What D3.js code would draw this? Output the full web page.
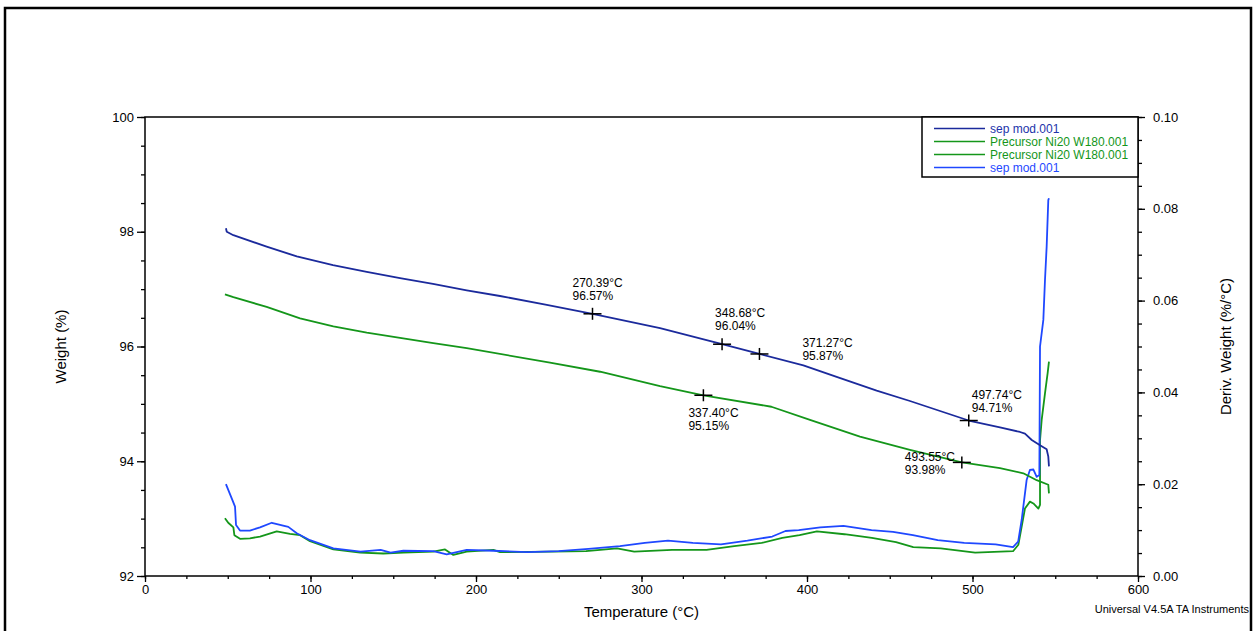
<!DOCTYPE html>
<html>
<head>
<meta charset="utf-8">
<script src="https://cdn.jsdelivr.net/npm/d3@7"></script>
<style>
  body { margin: 0; background: #fff; }
  svg { font-family: "Liberation Sans", Arial, sans-serif; }
</style>
</head>
<body>
<svg id="chart" width="1257" height="631"></svg>
<script>
// weight curves [temperature °C, weight %]
const sepWeight = [
  [48.9, 98.06], [49.4, 98.00], [53.4, 97.94], [73.5, 97.74], [91.7, 97.57],
  [113.6, 97.42], [134, 97.30], [154.1, 97.19], [174, 97.09], [194.4, 96.98],
  [214.5, 96.88], [242, 96.73], [270.4, 96.57], [311.2, 96.32], [348.7, 96.04],
  [371.3, 95.87], [397.8, 95.67], [417.9, 95.47], [442.1, 95.23], [462.2, 95.05],
  [497.7, 94.71], [516.6, 94.59], [528.7, 94.51], [531.7, 94.48], [535.8, 94.37],
  [540.8, 94.28], [544.8, 94.21], [545.8, 94.08], [546.2, 93.91]
];
const precWeight = [
  [48.3, 96.91], [53.4, 96.86], [73.5, 96.69], [93.7, 96.49], [113.8, 96.35],
  [134, 96.24], [154.1, 96.15], [174.2, 96.06], [194.4, 95.97], [244.7, 95.72],
  [275, 95.56], [311.2, 95.31], [337.4, 95.15], [378.5, 94.95], [401.8, 94.72],
  [432, 94.43], [462.2, 94.20], [493.6, 93.98], [516.6, 93.88], [530.7, 93.79],
  [538.8, 93.67], [545.8, 93.59], [546.2, 93.44]
];

// derivative curves [temperature °C, %/°C]
const sepDeriv = [
  [48.9, 0.0200], [52.4, 0.0169], [54.4, 0.0151], [55.0, 0.0111], [57.4, 0.0099],
  [63.4, 0.0099], [69.5, 0.0106], [76.6, 0.0116], [86.6, 0.0107], [91.7, 0.0093],
  [99.7, 0.0078], [113.8, 0.0060], [130.3, 0.0053], [142.4, 0.0057], [148.4, 0.0051],
  [156.1, 0.0055], [174.2, 0.0054], [182.3, 0.0047], [194.4, 0.0057], [210.5, 0.0055],
  [231, 0.0052], [250, 0.0054], [268, 0.0059], [287, 0.0065], [302, 0.0072],
  [316, 0.0077], [331, 0.0072], [348, 0.0069], [364, 0.0077], [379, 0.0086],
  [387, 0.0098], [395, 0.0100], [408, 0.0106], [422, 0.0109], [439, 0.0100],
  [452, 0.0096], [464, 0.0089], [479, 0.0078], [495, 0.0072], [514, 0.0069],
  [524.5, 0.0063], [527.6, 0.0075], [529.7, 0.0122], [532.7, 0.0209], [534.7, 0.0231],
  [536.8, 0.0232], [538.8, 0.0216], [540.4, 0.0220], [540.8, 0.0500], [542.8, 0.0558],
  [543.8, 0.0645], [544.8, 0.0717], [545.8, 0.0819], [546.2, 0.0823]
];
const precDeriv = [
  [48.3, 0.0126], [50.3, 0.0116], [53.4, 0.0106], [54, 0.0089], [57.4, 0.0081],
  [63.4, 0.0082], [69.5, 0.0086], [79.6, 0.0097], [87.6, 0.0092], [93.7, 0.0089],
  [99.7, 0.0076], [113.8, 0.0058], [130, 0.0051], [144, 0.0049], [156.1, 0.0051],
  [174.2, 0.0053], [181.3, 0.0058], [186.3, 0.0046], [194.4, 0.0053], [210.5, 0.0057],
  [214.5, 0.0052], [245.7, 0.0053], [266.5, 0.0054], [285.2, 0.0060], [295.6, 0.0053],
  [318.5, 0.0057], [339.3, 0.0057], [356, 0.0065], [372.6, 0.0072], [385.1, 0.0083],
  [395.5, 0.0089], [406, 0.0097], [422.6, 0.0091], [439.2, 0.0083], [453.8, 0.0074],
  [464.2, 0.0063], [480.8, 0.0060], [501.6, 0.0051], [524.5, 0.0054], [527.7, 0.0068],
  [531.7, 0.0147], [534.7, 0.0162], [536.8, 0.0158], [539.8, 0.0147], [540.8, 0.0155],
  [540.8, 0.0296], [541.8, 0.0340], [543.8, 0.0398], [545.4, 0.0442], [546.2, 0.0467]
];

// annotated points on the weight curves
const marks = [
  { t: 270.39, w: 96.57 },
  { t: 348.68, w: 96.04 },
  { t: 371.27, w: 95.87 },
  { t: 337.40, w: 95.15 },
  { t: 497.74, w: 94.71 },
  { t: 493.55, w: 93.98 }
];
// label offsets from each cross (px)
const markLabelOffset = [[-20, -27], [-7, -27], [43, -7], [-15, 22], [3, -22], [-57, -1]];

const legendNames = ["sep mod.001", "Precursor Ni20 W180.001", "Precursor Ni20 W180.001", "sep mod.001"];
const weightTicks = [92, 94, 96, 98, 100];
const derivTicks = [0, 0.02, 0.04, 0.06, 0.08, 0.10];
const tempTicks = [0, 100, 200, 300, 400, 500, 600];

const colDark = "#1b2a9c", colGreen = "#14961a", colBlue = "#1f48ff";

const svg = d3.select("#chart");
const L = 145, R = 1138, T = 117, B = 576;

// outer frame
svg.append("rect").attr("x", 5).attr("y", 8).attr("width", 1246).attr("height", 640)
  .attr("fill", "none").attr("stroke", "#000").attr("stroke-width", 2.5);

const x = d3.scaleLinear().domain([0, 600]).range([L, R]);
const y = d3.scaleLinear().domain([92, 100]).range([B, T]);
const y2 = d3.scaleLinear().domain([0, 0.10]).range([B, T]);

function styleAxis(g) {
  g.select(".domain").remove();
  g.selectAll("line").attr("stroke", "#000").attr("stroke-width", 1.3);
  g.selectAll("text").attr("font-size", 13).attr("fill", "#000")
    .attr("font-family", '"Liberation Sans", Arial, sans-serif');
}

// minor ticks
svg.append("g").attr("transform", `translate(${L},0)`)
  .call(d3.axisLeft(y).tickValues(d3.range(92, 100.01, 0.5)).tickSize(4).tickFormat(""))
  .call(styleAxis);
svg.append("g").attr("transform", `translate(${R},0)`)
  .call(d3.axisRight(y2).tickValues(d3.range(0, 0.1001, 0.005)).tickSize(4).tickFormat(""))
  .call(styleAxis);
svg.append("g").attr("transform", `translate(0,${B})`)
  .call(d3.axisBottom(x).tickValues(d3.range(0, 601, 25)).tickSize(3).tickFormat(""))
  .call(styleAxis);

// major ticks
svg.append("g").attr("transform", `translate(${L},0)`)
  .call(d3.axisLeft(y).tickValues(weightTicks).tickSize(8).tickPadding(3).tickFormat(d3.format("d")))
  .call(styleAxis);
svg.append("g").attr("transform", `translate(${R},0)`)
  .call(d3.axisRight(y2).tickValues(derivTicks).tickSize(7).tickPadding(8).tickFormat(d3.format(".2f")))
  .call(styleAxis);
svg.append("g").attr("transform", `translate(0,${B})`)
  .call(d3.axisBottom(x).tickValues(tempTicks).tickSize(6).tickPadding(3).tickFormat(d3.format("d")))
  .call(styleAxis);

// plot box
svg.append("rect").attr("x", L).attr("y", T).attr("width", R - L).attr("height", B - T)
  .attr("fill", "none").attr("stroke", "#000").attr("stroke-width", 1.5);

// curves
const lineW = d3.line().x(d => x(d[0])).y(d => y(d[1]));
const lineD = d3.line().x(d => x(d[0])).y(d => y2(d[1]));

[[precDeriv, lineD, colGreen], [sepDeriv, lineD, colBlue],
 [precWeight, lineW, colGreen], [sepWeight, lineW, colDark]].forEach(([data, gen, c]) => {
  svg.append("path").datum(data).attr("d", gen)
    .attr("fill", "none").attr("stroke", c).attr("stroke-width", 1.8)
    .attr("stroke-linejoin", "round");
});

// crosses and labels
marks.forEach((m, i) => {
  const cx = x(m.t), cy = y(m.w);
  svg.append("line").attr("x1", cx - 9).attr("x2", cx + 9).attr("y1", cy).attr("y2", cy)
    .attr("stroke", "#000").attr("stroke-width", 1.5);
  svg.append("line").attr("x1", cx).attr("x2", cx).attr("y1", cy - 6).attr("y2", cy + 6)
    .attr("stroke", "#000").attr("stroke-width", 1.5);
  const [dx, dy] = markLabelOffset[i];
  const t = svg.append("text").attr("font-size", 12).attr("fill", "#000");
  t.append("tspan").attr("x", cx + dx).attr("y", cy + dy).text(m.t.toFixed(2) + "°C");
  t.append("tspan").attr("x", cx + dx).attr("y", cy + dy + 13).text(m.w.toFixed(2) + "%");
});

// legend
const legCols = [colDark, colGreen, colGreen, colBlue];
const legTextCols = ["#2233aa", colGreen, colGreen, colBlue];
svg.append("rect").attr("x", 922).attr("y", T).attr("width", R - 922).attr("height", 60)
  .attr("fill", "#fff").attr("stroke", "#000").attr("stroke-width", 1.5);
legendNames.forEach((n, i) => {
  const ly = 128.5 + i * 13;
  svg.append("line").attr("x1", 934).attr("x2", 985).attr("y1", ly).attr("y2", ly)
    .attr("stroke", legCols[i]).attr("stroke-width", 1.3);
  svg.append("text").attr("x", 990).attr("y", ly + 4.5).attr("font-size", 12)
    .attr("fill", legTextCols[i]).text(n);
});

// titles
svg.append("text").attr("x", (L + R) / 2).attr("y", 617).attr("text-anchor", "middle")
  .attr("font-size", 15).text("Temperature (°C)");
svg.append("text").attr("transform", `translate(66,${(T + B) / 2}) rotate(-90)`)
  .attr("text-anchor", "middle").attr("font-size", 15).text("Weight (%)");
svg.append("text").attr("transform", `translate(1231,${(T + B) / 2}) rotate(-90)`)
  .attr("text-anchor", "middle").attr("font-size", 15).text("Deriv. Weight (%/°C)");
svg.append("text").attr("x", 1249).attr("y", 613).attr("text-anchor", "end")
  .attr("font-size", 11).text("Universal V4.5A TA Instruments");
</script>
</body>
</html>
